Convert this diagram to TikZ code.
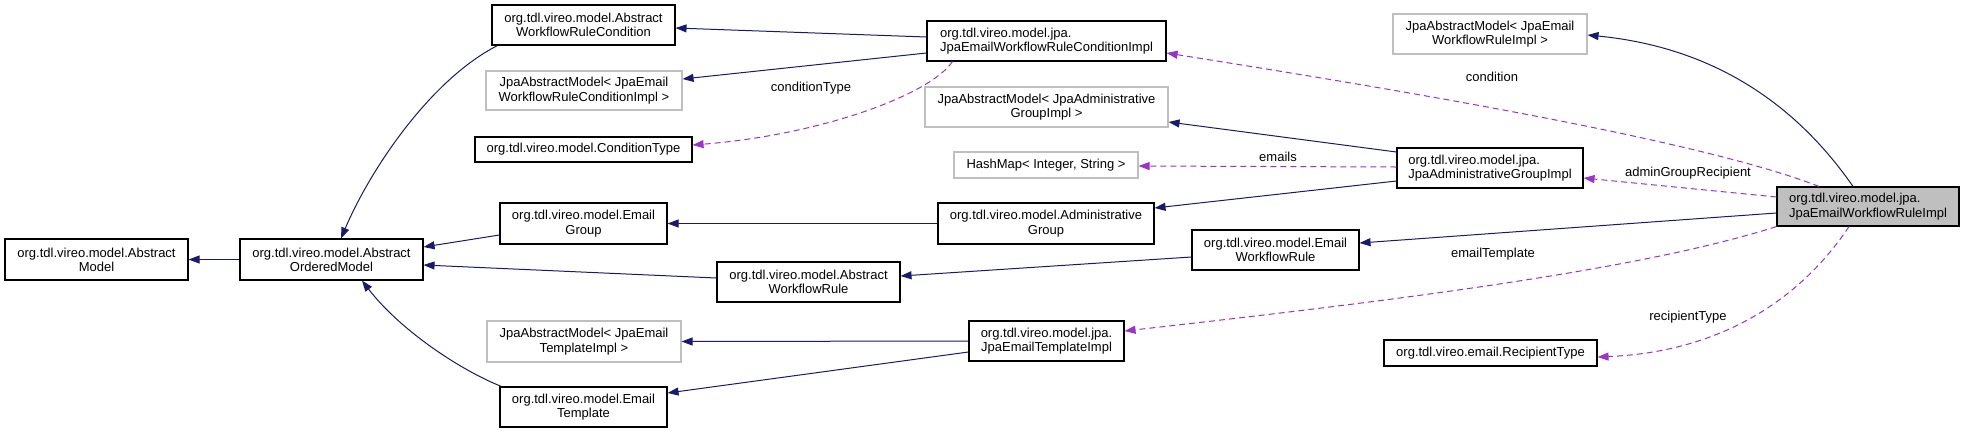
\documentclass[tikz,border=0pt]{standalone}
\usepackage{fontspec}
\setmainfont{Liberation Sans}
\usetikzlibrary{arrows.meta,calc}
\definecolor{navy}{HTML}{191970}
\definecolor{orchid}{HTML}{9A32CD}
\definecolor{boxgray}{HTML}{BFBFBF}
\begin{document}
\begin{tikzpicture}[x=1bp,y=-1bp,
  every node/.style={font=\fontsize{13bp}{14.3bp}\selectfont},
  cls/.style={draw=black, line width=1.1bp, inner sep=0pt, align=center, fill=white},
  clsl/.style={cls, align=left},
  tpl/.style={draw=boxgray, line width=1.1bp, inner sep=0pt, align=center, fill=white},
  inh/.style={draw=navy, line width=1bp, -{Triangle[length=11bp,width=8bp]}},
  usage/.style={draw=orchid, line width=1bp, dash pattern=on 6bp off 4bp, -{Triangle[length=11bp,width=8bp]}},
  lbl/.style={inner sep=0pt, text=black}
]
\useasboundingbox (0,0) rectangle (1965,432);

% nodes
\node[cls, minimum width=183bp, minimum height=41bp] (AM) at (96.5,259.5) {org.tdl.vireo.model.Abstract\\Model};
\node[cls, minimum width=183bp, minimum height=41bp] (AOM) at (331.5,259.5) {org.tdl.vireo.model.Abstract\\OrderedModel};
\node[cls, minimum width=183bp, minimum height=40bp] (AWRC) at (583.5,25) {org.tdl.vireo.model.Abstract\\WorkflowRuleCondition};
\node[tpl, minimum width=196bp, minimum height=39bp] (JAM1) at (584,90.5) {JpaAbstractModel< JpaEmail\\WorkflowRuleConditionImpl >};
\node[cls, minimum width=217bp, minimum height=25bp] (CT) at (583.5,149.5) {org.tdl.vireo.model.ConditionType};
\node[cls, minimum width=167bp, minimum height=41bp] (EG) at (583.5,223.5) {org.tdl.vireo.model.Email\\Group};
\node[tpl, minimum width=194bp, minimum height=41bp] (JAM3) at (584,341.5) {JpaAbstractModel< JpaEmail\\TemplateImpl >};
\node[cls, minimum width=167bp, minimum height=40bp] (ET) at (583.5,407) {org.tdl.vireo.model.Email\\Template};
\node[clsl, minimum width=239bp, minimum height=40bp] (JEWRC) at (1046.5,41) {org.tdl.vireo.model.jpa.\\JpaEmailWorkflowRuleConditionImpl};
\node[tpl, minimum width=243bp, minimum height=40bp] (JAM2) at (1046.5,107) {JpaAbstractModel< JpaAdministrative\\GroupImpl >};
\node[tpl, minimum width=184bp, minimum height=26bp] (HM) at (1046,165) {HashMap< Integer, String >};
\node[cls, minimum width=216bp, minimum height=41bp] (AG) at (1046,223.5) {org.tdl.vireo.model.Administrative\\Group};
\node[cls, minimum width=183bp, minimum height=40bp] (AWR) at (808.5,282) {org.tdl.vireo.model.Abstract\\WorkflowRule};
\node[cls, minimum width=155bp, minimum height=40bp] (JET) at (1046.5,341) {org.tdl.vireo.model.jpa.\\JpaEmailTemplateImpl};
\node[cls, minimum width=167bp, minimum height=40bp] (EWR) at (1275.5,250) {org.tdl.vireo.model.Email\\WorkflowRule};
\node[tpl, minimum width=194bp, minimum height=40bp] (JAM4) at (1490,34) {JpaAbstractModel< JpaEmail\\WorkflowRuleImpl >};
\node[clsl, minimum width=186bp, minimum height=40bp] (JAG) at (1490,168) {org.tdl.vireo.model.jpa.\\JpaAdministrativeGroupImpl};
\node[cls, minimum width=213bp, minimum height=26bp] (RT) at (1490.5,353) {org.tdl.vireo.email.RecipientType};
\node[clsl, fill=boxgray, minimum width=182bp, minimum height=39bp] (JEWR) at (1868,206.5) {org.tdl.vireo.model.jpa.\\JpaEmailWorkflowRuleImpl};

% inheritance edges
\draw[inh] ($(JEWRC.west)+(0,-4)$) -- ($(AWRC.east)+(0,3)$);
\draw[inh] ($(JEWRC.west)+(0,12)$) -- ($(JAM1.east)+(0,-11.5)$);
\draw[inh] ($(JAG.west)+(0,-16)$) -- ($(JAM2.east)+(0,15)$);
\draw[inh] ($(JAG.west)+(0,13)$) -- ($(AG.east)+(0,-15.5)$);
\draw[inh] (AG.west) -- (EG.east);
\draw[inh] ($(EG.west)+(0,11.5)$) -- ($(AOM.east)+(0,-12.5)$);
\draw[inh] ($(AWR.west)+(0,-4)$) -- ($(AOM.east)+(0,5.5)$);
\draw[inh] ($(EWR.west)+(0,7)$) -- ($(AWR.east)+(0,-6)$);
\draw[inh] ($(JEWR.west)+(0,6.5)$) -- ($(EWR.east)+(0,-7)$);
\draw[inh] ($(JEWR.north)+(-15,0)$) .. controls (1800,110) and (1720,48) .. ($(JAM4.east)+(0,1)$);
\draw[inh] (JET.west) -- (JAM3.east);
\draw[inh] ($(JET.west)+(0,11)$) -- ($(ET.east)+(0,-14)$);
\draw[inh] (AOM.west) -- (AM.east);
\draw[inh] ($(AWRC.south west)+(6,0)$) .. controls (430,80) and (370,170) .. ($(AOM.north)+(9.5,0)$);
\draw[inh] ($(ET.north west)+(2,0)$) .. controls (460,370) and (400,330) .. ($(AOM.south)+(30.5,0)$);

% usage edges
\draw[usage] ($(JEWRC.south west)+(26,0)$) .. controls (930,95) and (820,135) .. ($(CT.east)+(0,-4.5)$);
\node[lbl] (lct) at (811,88) {conditionType};
\draw[usage] ($(JAG.west)+(0,-1)$) -- ($(HM.east)+(0,1)$);
\node[lbl] (lem) at (1278,157) {emails};
\draw[usage] ($(JEWR.north)+(-49,0)$) .. controls (1700,140) and (1400,90) .. ($(JEWRC.east)+(0,12)$);
\node[lbl] (lco) at (1492,77) {condition};
\draw[usage] ($(JEWR.west)+(0,-9.5)$) -- ($(JAG.east)+(0,10)$);
\node[lbl] (lag) at (1688,173) {adminGroupRecipient};
\draw[usage] (JEWR.south west) .. controls (1640,270) and (1400,300) .. ($(JET.east)+(0,-10)$);
\node[lbl] (let) at (1493,254) {emailTemplate};
\draw[usage] ($(JEWR.south)+(-19,0)$) .. controls (1800,300) and (1720,352) .. ($(RT.east)+(0,4)$);
\node[lbl] (lrt) at (1688,317) {recipientType};
\end{tikzpicture}
\end{document}
